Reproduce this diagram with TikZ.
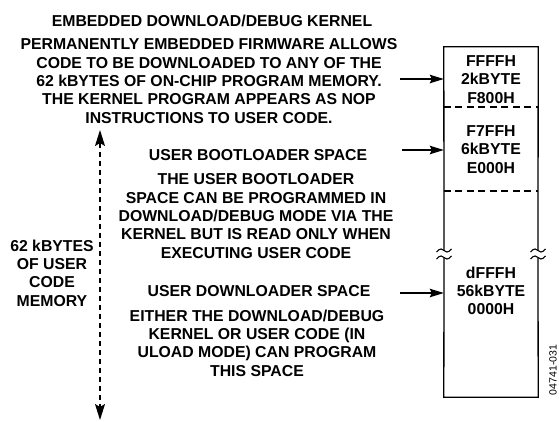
\documentclass[tikz,border=0pt]{standalone}
\usepackage{fontspec}
\setmainfont{Liberation Sans}
\usetikzlibrary{arrows.meta}
\tikzset{
  txt/.style={inner sep=0pt, anchor=north, align=center,
    font=\fontsize{15.8}{18.4}\selectfont\bfseries},
  arr/.style={line width=1.3pt, -{Stealth[length=14pt,width=8.5pt,inset=2pt]}},
  darr/.style={line width=1.3pt, dash pattern=on 5pt off 4pt,
    {Stealth[length=16pt,width=10pt,inset=3pt]}-{Stealth[length=16pt,width=10pt,inset=3pt]}},
  sep/.style={line width=1.3pt, dash pattern=on 7pt off 4.5pt},
  tld/.style={line width=1.1pt},
  edge/.style={line width=1.3pt},
}
\begin{document}
\begin{tikzpicture}[x=1pt,y=-1pt]
\useasboundingbox (0,0) rectangle (559,421);
% texts
\node[txt] (title) at (212,14.5) {EMBEDDED DOWNLOAD/DEBUG KERNEL};
\node[txt] (kern) at (209,38.5) {PERMANENTLY EMBEDDED FIRMWARE ALLOWS\\CODE TO BE DOWNLOADED TO ANY OF THE\\62 kBYTES OF ON-CHIP PROGRAM MEMORY.\\THE KERNEL PROGRAM APPEARS AS NOP\\INSTRUCTIONS TO USER CODE.};
\node[txt] (bltitle) at (258,149.5) {USER BOOTLOADER SPACE};
\node[txt] (bltext) at (256,173.5) {THE USER BOOTLOADER\\SPACE CAN BE PROGRAMMED IN\\DOWNLOAD/DEBUG MODE VIA THE\\KERNEL BUT IS READ ONLY WHEN\\EXECUTING USER CODE};
\node[txt] (dltitle) at (259,285.5) {USER DOWNLOADER SPACE};
\node[txt] (dltext) at (257,309.5) {EITHER THE DOWNLOAD/DEBUG\\KERNEL OR USER CODE (IN\\ULOAD MODE) CAN PROGRAM\\THIS SPACE};
\node[txt] (mem62) at (52,239.5) {62 kBYTES\\OF USER\\CODE\\MEMORY};
% memory box
\node[draw=none, minimum width=94pt, minimum height=350pt, inner sep=0pt] (mem) at (491,222) {};
\coordinate (lt) at (444,250.5);
\coordinate (lb) at (444,257.5);
\coordinate (rt) at (538,250.5);
\coordinate (rb) at (538,257.5);
\draw[edge] (lt) -- (mem.north west) -- (mem.north east) -- (rt);
\draw[edge] (lb) -- (mem.south west) -- (mem.south east) -- (rb);
\draw[sep] (mem.west |- 0,107) -- (mem.east |- 0,107);
\draw[sep] (mem.west |- 0,191) -- (mem.east |- 0,191);
% break marks
\foreach \bx/\by in {444/250.5, 444/257.5, 538/250.5, 538/257.5}{
  \draw[tld] (\bx-7.5,\by+1.5) .. controls (\bx-4,\by-3) and (\bx-1,\by-1.5) .. (\bx,\by)
    .. controls (\bx+1,\by+1.5) and (\bx+4,\by+3) .. (\bx+7.5,\by-1.5);
}
\node[txt] (r1) at (491,55.5) {FFFFH\\2kBYTE\\F800H};
\node[txt] (r2) at (491,125.5) {F7FFH\\6kBYTE\\E000H};
\node[txt] (r3) at (491,266.5) {dFFFH\\56kBYTE\\0000H};
% arrows
\coordinate (a1) at (400,79);
\coordinate (a2) at (402,150);
\coordinate (a3) at (400,293);
\draw[arr] (a1) -- (a1 -| mem.west);
\draw[arr] (a2) -- (a2 -| mem.west);
\draw[arr] (a3) -- (a3 -| mem.west);
\coordinate (vt) at (100,130);
\coordinate (vb) at (100,420);
\draw[darr] (vt) -- (vb);
\node[rotate=90, inner sep=0pt, font=\fontsize{10.5}{12}\selectfont] (fig) at (553,370) {04741-031};
\end{tikzpicture}
\end{document}
